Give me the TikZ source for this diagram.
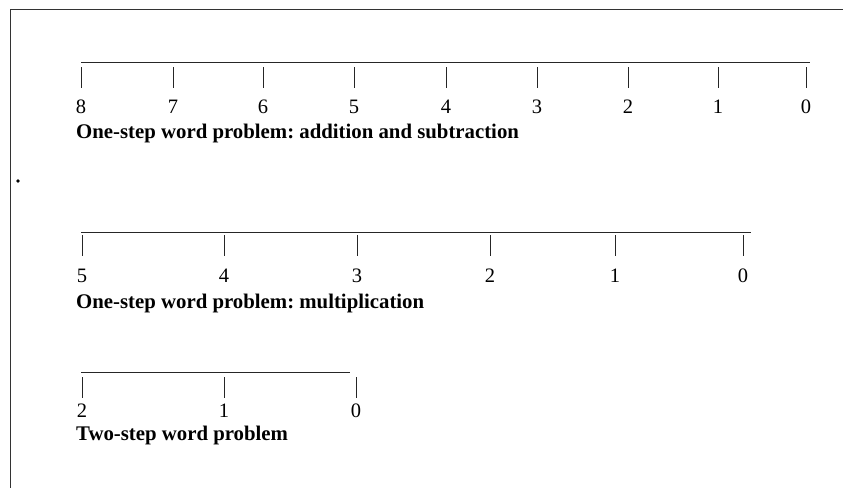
\documentclass[tikz,border=0pt]{standalone}
\usepackage{fontspec}
\setmainfont{Liberation Serif}
\frenchspacing
\begin{document}
\begin{tikzpicture}[x=1pt,y=-1pt,
  axisline/.style={line width=0.9pt,black!85},
  tickline/.style={line width=0.8pt,black!85},
  framel/.style={line width=0.9pt,black!80},
  numlab/.style={inner sep=0pt,anchor=base,font=\fontsize{20.5}{22}\selectfont},
  titlelab/.style={inner sep=0pt,anchor=base west,font=\fontsize{20.8}{23}\selectfont\bfseries}]
\useasboundingbox (0,0) rectangle (843,488);
% frame
\coordinate (ftl) at (10,9);
\coordinate (ftr) at (843,9);
\coordinate (fbl) at (10,488);
\draw[framel] (ftr) -- (ftl) -- (fbl);
\fill[black] (18,181) circle (1.8);
% number line 1
\coordinate (a1s) at (81,62);
\coordinate (a1e) at (810,62);
\draw[axisline] (a1s) -- (a1e);
\foreach \x/\n [count=\i] in {81/8,173/7,263/6,354/5,446/4,537/3,628/2,718/1,806/0}{
  \coordinate (t1a\i) at (\x,67);
  \coordinate (t1b\i) at (\x,88);
  \draw[tickline] (t1a\i) -- (t1b\i);
  \node[numlab] (n1\i) at (\x,113) {\n};
}
\node[titlelab] (title1) at (76,138) {One-step word problem: addition and subtraction};
% number line 2
\coordinate (a2s) at (81,232);
\coordinate (a2e) at (751,232);
\draw[axisline] (a2s) -- (a2e);
\foreach \x/\n [count=\i] in {82/5,224/4,357/3,490/2,615/1,743/0}{
  \coordinate (t2a\i) at (\x,235);
  \coordinate (t2b\i) at (\x,256);
  \draw[tickline] (t2a\i) -- (t2b\i);
  \node[numlab] (n2\i) at (\x,282) {\n};
}
\node[titlelab] (title2) at (76,308) {One-step word problem: multiplication};
% number line 3
\coordinate (a3s) at (81,372);
\coordinate (a3e) at (350,372);
\draw[axisline] (a3s) -- (a3e);
\foreach \x/\n [count=\i] in {82/2,224/1,356/0}{
  \coordinate (t3a\i) at (\x,377);
  \coordinate (t3b\i) at (\x,398);
  \draw[tickline] (t3a\i) -- (t3b\i);
  \node[numlab] (n3\i) at (\x,417) {\n};
}
\node[titlelab] (title3) at (76,440) {Two-step word problem};
\end{tikzpicture}
\end{document}
